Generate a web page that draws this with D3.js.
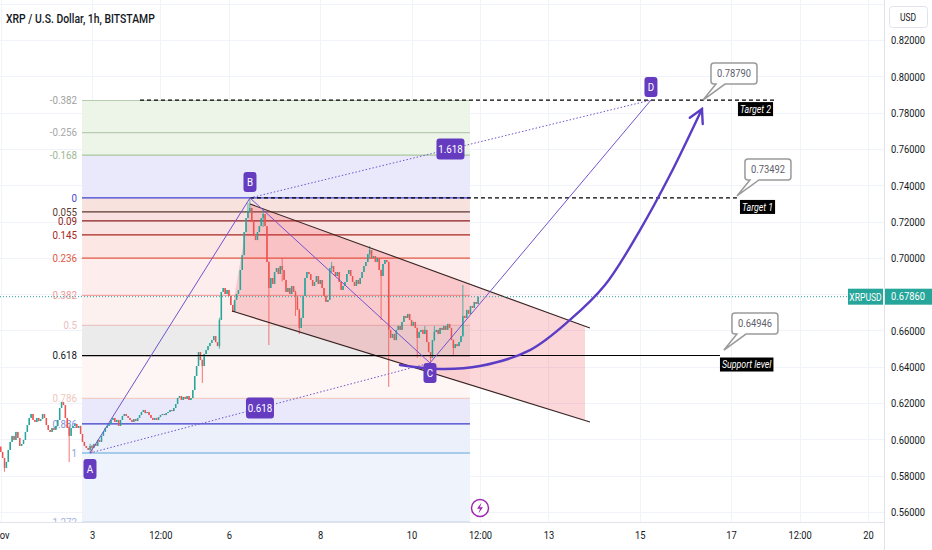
<!DOCTYPE html>
<html>
<head>
<meta charset="utf-8">
<title>XRP / U.S. Dollar, 1h, BITSTAMP</title>
<script src="https://d3js.org/d3.v7.min.js"></script>
<style>
  body { margin: 0; background: #fff; }
  text { font-family: Roboto, "Noto Sans", sans-serif; }
</style>
</head>
<body>
<div id="chart"></div>
<script>
// hourly closes, first candle = Nov 1 00:00
var closes = [
  0.5931,0.5898,0.5843,0.5876,0.5942,0.5986,0.6019,0.5997,0.6041,0.6008,
  0.5964,0.5975,0.5997,0.6041,0.6079,0.6118,0.6140,0.6107,0.6096,0.6118,
  0.6101,0.6112,0.6140,0.6118,0.6079,0.6052,0.6041,0.6063,0.6052,0.6074,
  0.6107,0.6173,0.6206,0.6189,0.6118,0.6063,0.6019,0.6063,0.6074,0.6085,
  0.6063,0.6074,0.6030,0.5986,0.5964,0.5953,0.5942,0.5964,0.5953,0.5975,
  0.5964,0.5997,0.5986,0.6019,0.6041,0.6063,0.6074,0.6085,0.6107,0.6118,
  0.6096,0.6107,0.6074,0.6107,0.6129,0.6140,0.6129,0.6118,0.6107,0.6096,
  0.6112,0.6101,0.6118,0.6134,0.6151,0.6162,0.6145,0.6151,0.6134,0.6118,
  0.6107,0.6118,0.6107,0.6123,0.6134,0.6140,0.6134,0.6145,0.6151,0.6162,
  0.6156,0.6173,0.6195,0.6228,0.6239,0.6217,0.6234,0.6223,0.6239,0.6217,
  0.6228,0.6272,0.6349,0.6404,0.6481,0.6437,0.6404,0.6470,0.6492,0.6514,
  0.6531,0.6547,0.6569,0.6536,0.6514,0.6658,0.6812,0.6834,0.6801,0.6823,
  0.6790,0.6740,0.6702,0.6768,0.6801,0.6823,0.6933,0.7015,0.7142,0.7219,
  0.7253,0.7275,0.7198,0.7120,0.7098,0.7142,0.7175,0.7219,0.7241,0.7175,
  0.6977,0.6834,0.6889,0.6856,0.6922,0.6944,0.6911,0.6955,0.6933,0.6878,
  0.6812,0.6834,0.6801,0.6845,0.6812,0.6790,0.6713,0.6614,0.6669,0.6790,
  0.6889,0.6922,0.6911,0.6878,0.6845,0.6867,0.6900,0.6856,0.6878,0.6834,
  0.6790,0.6757,0.6768,0.6944,0.6955,0.6922,0.6900,0.6922,0.6867,0.6823,
  0.6845,0.6867,0.6911,0.6933,0.6900,0.6867,0.6845,0.6878,0.6856,0.6889,
  0.6922,0.6955,0.6977,0.7021,0.7043,0.6999,0.7010,0.6977,0.6999,0.6933,
  0.6900,0.6966,0.6988,0.6977,0.6603,0.6559,0.6581,0.6547,0.6603,0.6625,
  0.6603,0.6647,0.6680,0.6669,0.6691,0.6658,0.6625,0.6647,0.6614,0.6559,
  0.6592,0.6603,0.6581,0.6603,0.6536,0.6481,0.6448,0.6547,0.6592,0.6603,
  0.6581,0.6614,0.6603,0.6625,0.6603,0.6636,0.6614,0.6547,0.6503,0.6525,
  0.6514,0.6536,0.6569,0.6680,0.6669,0.6713,0.6691,0.6735,0.6724,0.6757,
  0.6746,0.6786
];
var firstOpen = 0.5960;
// [candle index, high, low] for the wicks that stick out
var wicks = [
  [2,0.5890,0.5822],[36,0.6080,0.5875],[47,0.5975,0.5925],[48,0.5970,0.5925],
  [106,0.6440,0.6311],[115,0.6670,0.6500],[130,0.7302,0.7220],[131,0.7330,0.7250],
  [138,0.7264,0.7170],[141,0.6980,0.6520],[148,0.7000,0.6870],[155,0.6820,0.6680],
  [157,0.6720,0.6580],[174,0.6977,0.6920],[194,0.7065,0.7000],[200,0.6935,0.6658],
  [204,0.6980,0.6289],[219,0.6615,0.6450],[223,0.6625,0.6580],[226,0.6480,0.6421],
  [228,0.6625,0.6540],[238,0.6550,0.6465],[243,0.6851,0.6565]
];
var lastPrice = 0.6786;

// 0.68000 sits under the last-price box, so it is not labelled
var priceTicks = [0.56,0.58,0.60,0.62,0.64,0.66,0.70,0.72,0.74,0.76,0.78,0.80,0.82];
var gridPrices = [0.56,0.58,0.60,0.62,0.64,0.66,0.68,0.70,0.72,0.74,0.76,0.78,0.80,0.82,0.84];
var timeTicks = [1,3,4.5,6,8,10,11.5,13,15,17,18.5,20];
var timeLabels = ["Nov","3","12:00","6","8","10","12:00","13","15","17","12:00","20"];

// fib retracement A (low) -> B (high)
var fibLow = 0.5925, fibHigh = 0.7330, fibFrom = 2.781, fibTo = 11.28;
var fibLevels = [-0.382,-0.256,-0.168,0,0.055,0.09,0.145,0.236,0.382,0.5,0.618,0.786,0.886,1,1.272];
var fibLine = ["#b7cbb0","#b7cbb0","#a8c79c","#3f3fd6","#5c3a30","#8e1c1c","#a8261e","#e0573f","#f2a4a4","#eac6c6","#000000","#f2cfc6","#3a3ac9","#5ea5d9","#9fb4dc"];
var fibText = ["#a0a0a0","#a8a8a8","#9cb890","#4747d0","#5c3a30","#8e1c1c","#a8261e","#e0573f","#f09a9a","#ebc0c0","#131722","#efc7be","#7e8fd6","#8aa6d8","#9fb4dc"];
var fibFill = ["#edf5e8","#edf5e8","#e9e9fb","#f8e2de","#f9e1e1","#fae3e3","#fce7e5","#fdeded","#fdf1ef","#ebebeb","#fdf6f4","#e9e9fb","#ebf0fb","#eef3fc"];

// ABCD pattern points [day, price]
var pA = [2.956, 0.5925], pB = [6.461, 0.7330], pC = [10.404, 0.6421], pD = [15.245, 0.7869];
// descending channel
var chUpper = [[6.461, 0.72966], [13.909, 0.66136]];
var chLower = [[6.067, 0.67072], [13.909, 0.60958]];
var chFillEnd = 13.80;
// projected path arrow
var arrowPts = [[9.747,0.6410],[10.623,0.6388],[11.499,0.6404],[12.595,0.6492],[13.471,0.6658],
                [14.238,0.6850],[15.005,0.7153],[15.662,0.7456],[16.363,0.7820]];
// horizontal levels
var hLines = [
  {name: "Target 2", price: 0.7869, from: 4.051, to: 18.006, labelAt: 17.151, dashed: true},
  {name: "Target 1", price: 0.7330, from: 6.461, to: 17.129, labelAt: 17.195, dashed: true},
  {name: "Support level", price: 0.6462, from: 2.781, to: 16.757, labelAt: 16.757, dashed: false}
];
var callouts = [
  {text: "0.78790", day: 16.385, price: 0.7869},
  {text: "0.73492", day: 17.129, price: 0.7341},
  {text: "0.64946", day: 16.844, price: 0.6492}
];

var W = 932, H = 550, plotW = 884, plotH = 522;
var green = "#26a69a", red = "#ef5350", purple = "#653cc0";

var x = d3.scaleLinear().domain([3, 20]).range([92, 868]);
var y = d3.scaleLinear().domain([0.56, 0.82]).range([512, 40]);
var dayOf = function(i) { return 1 + i / 24; };

var svg = d3.select("#chart").append("svg").attr("width", W).attr("height", H);
svg.append("defs").append("clipPath").attr("id", "plotclip")
  .append("rect").attr("width", plotW).attr("height", plotH);

var plot = svg.append("g").attr("clip-path", "url(#plotclip)");

function label(g, px, py, s, o) {
  o = o || {};
  return g.append("text")
    .attr("transform", "translate(" + px + "," + py + ") scale(" + (o.sx || 0.85) + ",1)")
    .attr("text-anchor", o.anchor || "start")
    .attr("dominant-baseline", "central")
    .attr("font-size", o.size || 11)
    .attr("font-style", o.italic ? "italic" : null)
    .attr("font-weight", o.weight || null)
    .attr("fill", o.fill || "#131722")
    .text(s);
}

// grid
plot.selectAll(".hgrid").data(gridPrices).enter().append("line")
  .attr("x1", 0).attr("x2", plotW)
  .attr("y1", function(d) { return Math.round(y(d)) + 0.5; })
  .attr("y2", function(d) { return Math.round(y(d)) + 0.5; })
  .attr("stroke", "#f0f3fa");
plot.selectAll(".vgrid").data(timeTicks).enter().append("line")
  .attr("y1", 0).attr("y2", plotH)
  .attr("x1", function(d) { return Math.round(x(d)) + 0.5; })
  .attr("x2", function(d) { return Math.round(x(d)) + 0.5; })
  .attr("stroke", "#f0f3fa");

// fib retracement
var fibPrice = function(l) { return fibHigh - l * (fibHigh - fibLow); };
var fib = plot.append("g");
fibLevels.slice(0, -1).forEach(function(l, i) {
  var y0 = y(fibPrice(l)), y1 = y(fibPrice(fibLevels[i + 1]));
  fib.append("rect").attr("x", x(fibFrom)).attr("width", x(fibTo) - x(fibFrom))
    .attr("y", y0).attr("height", y1 - y0).attr("fill", fibFill[i]);
});
fibLevels.forEach(function(l, i) {
  var yy = y(fibPrice(l));
  fib.append("line").attr("x1", x(fibFrom)).attr("x2", x(fibTo))
    .attr("y1", yy).attr("y2", yy).attr("stroke", fibLine[i]).attr("stroke-width", 1.2);
  label(fib, x(fibFrom) - 5, yy, String(l), {anchor: "end", fill: fibText[i], size: 11.5});
});

// channel fill
plot.append("path")
  .attr("d", d3.line().x(function(d) { return x(d[0]); }).y(function(d) { return y(d[1]); })([
    chUpper[0],
    [chFillEnd, chUpper[0][1] + (chUpper[1][1] - chUpper[0][1]) * (chFillEnd - chUpper[0][0]) / (chUpper[1][0] - chUpper[0][0])],
    [chFillEnd, chLower[0][1] + (chLower[1][1] - chLower[0][1]) * (chFillEnd - chLower[0][0]) / (chLower[1][0] - chLower[0][0])],
    chLower[0]
  ]) + "Z")
  .attr("fill", "rgba(242,54,69,0.2)");

// candles
var candles = closes.map(function(c, i) {
  var o = i === 0 ? firstOpen : closes[i - 1];
  return {i: i, o: o, c: c, h: Math.max(o, c), l: Math.min(o, c)};
});
wicks.forEach(function(w) { candles[w[0]].h = w[1]; candles[w[0]].l = w[2]; });

var cg = plot.append("g");
cg.selectAll("line").data(candles).enter().append("line")
  .attr("x1", function(d) { return x(dayOf(d.i)); })
  .attr("x2", function(d) { return x(dayOf(d.i)); })
  .attr("y1", function(d) { return y(d.h); })
  .attr("y2", function(d) { return y(d.l); })
  .attr("stroke", function(d) { return d.c >= d.o ? green : red; })
  .attr("stroke-width", 0.8);
cg.selectAll("rect").data(candles).enter().append("rect")
  .attr("x", function(d) { return x(dayOf(d.i)) - 0.75; })
  .attr("width", 1.5)
  .attr("y", function(d) { return y(Math.max(d.o, d.c)); })
  .attr("height", function(d) { return Math.max(1, Math.abs(y(d.o) - y(d.c))); })
  .attr("fill", function(d) { return d.c >= d.o ? green : red; });

// channel borders
[chUpper, chLower].forEach(function(seg) {
  plot.append("line")
    .attr("x1", x(seg[0][0])).attr("y1", y(seg[0][1]))
    .attr("x2", x(seg[1][0])).attr("y2", y(seg[1][1]))
    .attr("stroke", "#3a2424").attr("stroke-width", 1.1);
});

// last price line
plot.append("line").attr("x1", 0).attr("x2", plotW)
  .attr("y1", y(lastPrice)).attr("y2", y(lastPrice))
  .attr("stroke", green).attr("stroke-dasharray", "1,2");

// horizontal target / support lines
hLines.forEach(function(h) {
  var yy = y(h.price);
  plot.append("line").attr("x1", x(h.from)).attr("x2", x(h.to))
    .attr("y1", yy).attr("y2", yy).attr("stroke", "#000").attr("stroke-width", 1.2)
    .attr("stroke-dasharray", h.dashed ? "4,3" : null);
});

// ABCD pattern
var pxy = function(p) { return [x(p[0]), y(p[1])]; };
[[pA, pB], [pB, pC], [pC, pD]].forEach(function(s) {
  plot.append("line").attr("x1", x(s[0][0])).attr("y1", y(s[0][1]))
    .attr("x2", x(s[1][0])).attr("y2", y(s[1][1]))
    .attr("stroke", "#7352cc").attr("stroke-width", 1);
});
[[pA, pC], [pB, pD]].forEach(function(s) {
  plot.append("line").attr("x1", x(s[0][0])).attr("y1", y(s[0][1]))
    .attr("x2", x(s[1][0])).attr("y2", y(s[1][1]))
    .attr("stroke", "#7352cc").attr("stroke-width", 1).attr("stroke-dasharray", "1.5,2");
});

// projection arrow
var arrow = plot.append("g").attr("stroke", "#5b3cc4").attr("fill", "none")
  .attr("stroke-width", 2.4).attr("stroke-linecap", "round");
arrow.append("path")
  .attr("d", d3.line().curve(d3.curveCatmullRom)
    .x(function(d) { return x(d[0]); }).y(function(d) { return y(d[1]); })(arrowPts));
(function() {
  var tip = pxy(arrowPts[arrowPts.length - 1]), prev = pxy(arrowPts[arrowPts.length - 2]);
  var ang = Math.atan2(tip[1] - prev[1], tip[0] - prev[0]);
  var len = 15, spread = 0.5;
  arrow.append("path").attr("d",
    "M" + (tip[0] - len * Math.cos(ang - spread)) + "," + (tip[1] - len * Math.sin(ang - spread)) +
    "L" + tip[0] + "," + tip[1] +
    "L" + (tip[0] - len * Math.cos(ang + spread)) + "," + (tip[1] - len * Math.sin(ang + spread)));
})();

// pattern labels
function tag(cx, cy, s, w, h) {
  var g = plot.append("g");
  g.append("rect").attr("x", cx - w / 2).attr("y", cy - h / 2).attr("width", w).attr("height", h)
    .attr("rx", 3).attr("fill", purple);
  label(g, cx, cy + 0.5, s, {anchor: "middle", fill: "#fff", size: 11.5});
}
tag(x(pA[0]), y(pA[1]) + 16, "A", 13, 20);
tag(x(pB[0]), y(pB[1]) - 16, "B", 13, 20);
tag(x(pC[0]), y(pC[1]) + 10, "C", 13, 20);
tag(x(pD[0]), y(pD[1]) - 13, "D", 13, 20);
tag((x(pA[0]) + x(pC[0])) / 2, (y(pA[1]) + y(pC[1])) / 2, "0.618", 28, 21);
tag((x(pB[0]) + x(pD[0])) / 2, (y(pB[1]) + y(pD[1])) / 2, "1.618", 28, 21);

// black text tags on the levels
hLines.forEach(function(h) {
  var g = plot.append("g");
  var r = g.append("rect").attr("fill", "#000");
  var t = label(g, x(h.labelAt) + 2, y(h.price) + 9, h.name, {fill: "#fff", italic: true, size: 11, sx: 0.8});
  var w = t.node().getComputedTextLength() * 0.8 + 4;
  r.attr("x", x(h.labelAt)).attr("y", y(h.price) + 2).attr("width", w).attr("height", 14);
});

// price callouts
callouts.forEach(function(c) {
  var px = x(c.day), py = y(c.price), bx = px + 8, by = py - 37, bw = 46, bh = 21;
  plot.append("path")
    .attr("d", "M" + (bx + 3) + "," + by + "H" + (bx + bw - 3) + "Q" + (bx + bw) + "," + by + " " + (bx + bw) + "," + (by + 3) +
      "V" + (by + bh - 3) + "Q" + (bx + bw) + "," + (by + bh) + " " + (bx + bw - 3) + "," + (by + bh) +
      "H" + (bx + 14) + "L" + px + "," + py + "L" + (bx + 5) + "," + (by + bh) +
      "H" + (bx + 3) + "Q" + bx + "," + (by + bh) + " " + bx + "," + (by + bh - 3) +
      "V" + (by + 3) + "Q" + bx + "," + by + " " + (bx + 3) + "," + by + "Z")
    .attr("fill", "#fff").attr("stroke", "#9a9a9a").attr("stroke-width", 1.5);
  label(plot, bx + bw / 2, by + bh / 2, c.text, {anchor: "middle", fill: "#5d606b", size: 11});
});

// XRPUSD tag at the right edge of the plot
plot.append("rect").attr("x", plotW - 36).attr("y", y(lastPrice) - 8).attr("width", 35).attr("height", 16)
  .attr("fill", green);
label(plot, plotW - 18.5, y(lastPrice), "XRPUSD", {anchor: "middle", fill: "#fff", size: 11, sx: 0.78});

// lightning marker
var bolt = plot.append("g").attr("transform", "translate(" + x(11.5) + ",508)");
bolt.append("circle").attr("r", 8.5).attr("fill", "#fff").attr("stroke", "#9c27b0").attr("stroke-width", 1.5);
bolt.append("path").attr("d", "M1.5,-5.5L-3,0.8H0L-1.5,5.5L3,-0.8H0Z").attr("fill", "#9c27b0");

// title
label(svg, 6, 19, "XRP / U.S. Dollar, 1h, BITSTAMP", {size: 13, weight: 500, sx: 0.8});

// right price scale
svg.append("rect").attr("x", plotW).attr("y", 0).attr("width", W - plotW).attr("height", H).attr("fill", "#fff");
svg.append("rect").attr("x", 0).attr("y", plotH).attr("width", W).attr("height", H - plotH).attr("fill", "#fff");
svg.append("line").attr("x1", plotW + 0.5).attr("x2", plotW + 0.5).attr("y1", 0).attr("y2", H).attr("stroke", "#e0e3eb");
svg.append("line").attr("x1", 0).attr("x2", plotW).attr("y1", plotH + 0.5).attr("y2", plotH + 0.5).attr("stroke", "#e0e3eb");

var yAxis = svg.append("g").attr("transform", "translate(" + plotW + ",0)")
  .call(d3.axisRight(y).tickValues(priceTicks).tickSize(0).tickPadding(0).tickFormat(d3.format(".5f")));
yAxis.select(".domain").remove();
yAxis.selectAll("text")
  .attr("x", 24 / 0.85).attr("dy", "0.35em").attr("text-anchor", "middle")
  .attr("transform", "scale(0.85,1)")
  .attr("font-size", 11).attr("font-family", "Roboto, sans-serif").attr("fill", "#131722");

var xAxis = svg.append("g").attr("transform", "translate(0," + plotH + ")")
  .call(d3.axisBottom(x).tickValues(timeTicks).tickSize(0).tickPadding(9)
    .tickFormat(function(d, i) { return timeLabels[i]; }));
xAxis.select(".domain").remove();
xAxis.selectAll("text")
  .attr("transform", "scale(0.85,1)")
  .attr("font-size", 11).attr("font-family", "Roboto, sans-serif").attr("fill", "#131722");

// USD button
svg.append("rect").attr("x", 889.5).attr("y", 6.5).attr("width", 38).attr("height", 21).attr("rx", 3)
  .attr("fill", "#fff").attr("stroke", "#e0e3eb");
label(svg, 908, 17, "USD", {anchor: "middle", size: 10});

// last price on the scale
svg.append("rect").attr("x", plotW + 1).attr("y", y(lastPrice) - 8).attr("width", W - plotW - 1).attr("height", 16)
  .attr("fill", green);
label(svg, 908, y(lastPrice), d3.format(".5f")(lastPrice), {anchor: "middle", fill: "#fff", size: 11});
</script>
</body>
</html>
